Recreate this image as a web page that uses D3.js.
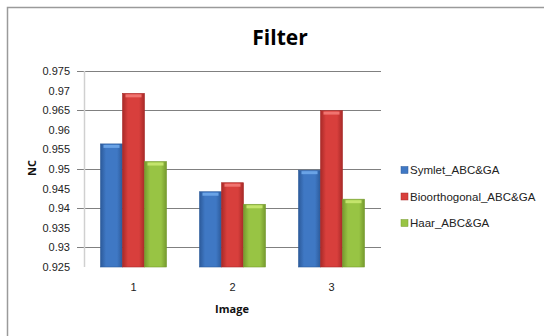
<!DOCTYPE html>
<html>
<head>
    <script src="https://d3js.org/d3.v7.min.js"></script>
    <style>
        body { margin: 0; background: #fff; }
        svg { display: block; }
        .tick-label { font-family: "Liberation Sans Narrow", "Arial Narrow", sans-serif; font-size: 11px; fill: #222; }
        .leg-label { font-family: "Liberation Sans Narrow", "Arial Narrow", sans-serif; font-size: 11.5px; fill: #222; }
    </style>
</head>
<body>
    <div id="chart"></div>
    <script>
        var categories = ["1", "2", "3"];
        var seriesNames = ["Symlet_ABC&GA", "Bioorthogonal_ABC&GA", "Haar_ABC&GA"];
        var symlet = [0.9564, 0.9442, 0.9497];
        var biorth = [0.9693, 0.9465, 0.9649];
        var haar = [0.9519, 0.9410, 0.9423];
        var yTicks = [0.925, 0.93, 0.935, 0.94, 0.945, 0.95, 0.955, 0.96, 0.965, 0.97, 0.975];
        var gridValues = [0.93, 0.94, 0.95, 0.965, 0.975];

        var seriesValues = [symlet, biorth, haar];
        var colors = [
            { base: "#3f78c4", dark: "#2c5a9a", light: "#6aa3e6" },
            { base: "#d83f3c", dark: "#a82a28", light: "#f07470" },
            { base: "#98c444", dark: "#769a2e", light: "#c4e46c" }
        ];

        var svg = d3.select("#chart").append("svg")
            .attr("width", 544).attr("height", 336);

        var defs = svg.append("defs");
        colors.forEach(function(c, i) {
            var g = defs.append("linearGradient").attr("id", "grad" + i)
                .attr("x1", 0).attr("x2", 1).attr("y1", 0).attr("y2", 0);
            g.append("stop").attr("offset", "0%").attr("stop-color", c.dark);
            g.append("stop").attr("offset", "25%").attr("stop-color", c.base);
            g.append("stop").attr("offset", "75%").attr("stop-color", c.base);
            g.append("stop").attr("offset", "100%").attr("stop-color", c.dark);
        });

        // outer frame
        svg.append("rect").attr("x", 7.5).attr("y", 7.5).attr("width", 545).attr("height", 340)
            .attr("fill", "none").attr("stroke", "#9a9a9a").attr("stroke-width", 1.5);

        var x0 = d3.scaleBand().domain(categories).range([84, 381]);
        var x1 = d3.scaleBand().domain(d3.range(3)).range([0, 66]);
        var y = d3.scaleLinear().domain([0.925, 0.975]).range([267, 71]);

        // gridlines + tick marks
        svg.selectAll(".grid").data(gridValues).enter().append("line")
            .attr("x1", 77).attr("x2", 381)
            .attr("y1", function(d) { return Math.round(y(d)) + 0.5; })
            .attr("y2", function(d) { return Math.round(y(d)) + 0.5; })
            .attr("stroke", "#808080").attr("stroke-width", 1);

        // y axis line
        svg.append("line").attr("x1", 84.5).attr("x2", 84.5).attr("y1", 71).attr("y2", 267)
            .attr("stroke", "#d0d0d0").attr("stroke-width", 1.5);

        svg.selectAll(".ylab").data(yTicks).enter().append("text")
            .attr("class", "tick-label")
            .attr("x", 70).attr("y", function(d) { return y(d) + 4; })
            .attr("text-anchor", "end")
            .text(function(d) { return d3.format("")(+d.toFixed(3)); });

        var groups = svg.selectAll(".grp").data(categories).enter().append("g")
            .attr("transform", function(d) { return "translate(" + (x0(d) + (x0.bandwidth() - 66) / 2) + ",0)"; });

        groups.each(function(cat, ci) {
            var g = d3.select(this);
            seriesValues.forEach(function(vals, si) {
                var bx = x1(si), bw = x1.bandwidth();
                var top = y(vals[ci]);
                g.append("rect").attr("x", bx).attr("y", top)
                    .attr("width", bw).attr("height", 267 - top)
                    .attr("fill", "url(#grad" + si + ")")
                    .attr("stroke", colors[si].dark).attr("stroke-width", 0.6);
                g.append("rect").attr("x", bx + 3).attr("y", top + 1)
                    .attr("width", bw - 6).attr("height", 3)
                    .attr("fill", colors[si].light);
            });
        });

        svg.selectAll(".xlab").data(categories).enter().append("text")
            .attr("class", "tick-label")
            .attr("x", function(d) { return x0(d) + x0.bandwidth() / 2; })
            .attr("y", 291).attr("text-anchor", "middle")
            .text(function(d) { return d; });

        svg.append("text").attr("x", 280).attr("y", 45).attr("text-anchor", "middle")
            .style("font-family", "'Open Sans', sans-serif").style("font-weight", "bold")
            .style("font-size", "21px").attr("fill", "#000").text("Filter");

        svg.append("text").attr("x", 232).attr("y", 313).attr("text-anchor", "middle")
            .style("font-family", "'Open Sans', sans-serif").style("font-weight", "bold")
            .style("font-size", "11px").attr("fill", "#111").text("Image");

        svg.append("text").attr("transform", "translate(36,168) rotate(-90)").attr("text-anchor", "middle")
            .style("font-family", "'Open Sans', sans-serif").style("font-weight", "bold")
            .style("font-size", "11px").attr("fill", "#111").text("NC");

        var legend = svg.selectAll(".leg").data(seriesNames).enter().append("g")
            .attr("transform", function(d, i) { return "translate(401," + (170 + i * 26.5) + ")"; });
        legend.append("rect").attr("x", 0).attr("y", -3.5).attr("width", 7).attr("height", 7)
            .attr("fill", function(d, i) { return colors[i].base; })
            .attr("stroke", function(d, i) { return colors[i].dark; }).attr("stroke-width", 0.5);
        legend.append("text").attr("class", "leg-label").attr("x", 9).attr("y", 4)
            .text(function(d) { return d; });
    </script>
</body>
</html>
